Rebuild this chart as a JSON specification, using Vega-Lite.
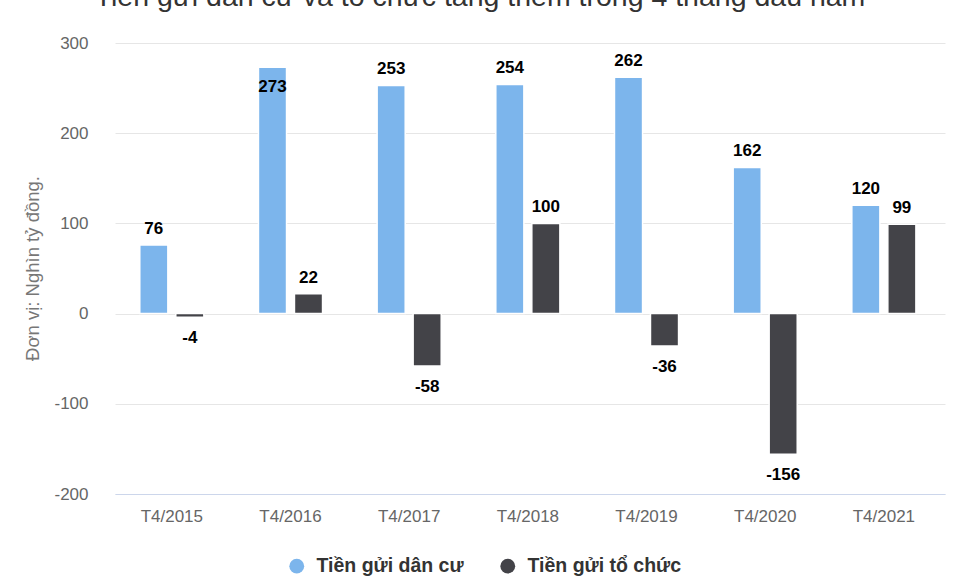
{
  "$schema": "https://vega.github.io/schema/vega-lite/v6.json",
  "width": 830,
  "height": 451,
  "autosize": {"type": "none"},
  "padding": {"left": 115, "top": 43, "right": 15, "bottom": 82},
  "background": "white",
  "title": {
    "text": "Tiền gửi dân cư và tổ chức tăng thêm trong 4 tháng đầu năm",
    "font": "Liberation Sans",
    "fontSize": 28.5,
    "fontWeight": "normal",
    "color": "#333333",
    "anchor": "middle",
    "frame": "group",
    "baseline": "alphabetic",
    "offset": 0,
    "dx": -50
  },
  "config": {
    "font": "Liberation Sans",
    "view": {"stroke": null},
    "locale": {"number": {"decimal": ".", "thousands": ",", "grouping": [3], "currency": ["", ""], "minus": "-"}}
  },
  "data": {
    "values": [
      {"period": "T4/2015", "series": "Tiền gửi dân cư", "value": 76},
      {"period": "T4/2015", "series": "Tiền gửi tổ chức", "value": -4},
      {"period": "T4/2016", "series": "Tiền gửi dân cư", "value": 273},
      {"period": "T4/2016", "series": "Tiền gửi tổ chức", "value": 22},
      {"period": "T4/2017", "series": "Tiền gửi dân cư", "value": 253},
      {"period": "T4/2017", "series": "Tiền gửi tổ chức", "value": -58},
      {"period": "T4/2018", "series": "Tiền gửi dân cư", "value": 254},
      {"period": "T4/2018", "series": "Tiền gửi tổ chức", "value": 100},
      {"period": "T4/2019", "series": "Tiền gửi dân cư", "value": 262},
      {"period": "T4/2019", "series": "Tiền gửi tổ chức", "value": -36},
      {"period": "T4/2020", "series": "Tiền gửi dân cư", "value": 162},
      {"period": "T4/2020", "series": "Tiền gửi tổ chức", "value": -156},
      {"period": "T4/2021", "series": "Tiền gửi dân cư", "value": 120},
      {"period": "T4/2021", "series": "Tiền gửi tổ chức", "value": 99}
    ]
  },
  "encoding": {
    "x": {
      "field": "period",
      "type": "nominal",
      "scale": {"paddingInner": 0.46, "paddingOuter": 0.227, "align": 0.46},
      "axis": {
        "title": null,
        "labelAngle": 0,
        "labelFontSize": 17,
        "labelColor": "#666666",
        "labelPadding": 14,
        "ticks": false,
        "domainColor": "#ccd6eb",
        "domainWidth": 1
      }
    },
    "xOffset": {
      "field": "series",
      "type": "nominal",
      "sort": ["Tiền gửi dân cư", "Tiền gửi tổ chức"],
      "scale": {"paddingInner": 0.22, "paddingOuter": 0}
    },
    "y": {
      "field": "value",
      "type": "quantitative",
      "scale": {"domain": [-200, 300], "nice": false},
      "axis": {
        "title": "Đơn vị: Nghìn tỷ đồng.",
        "titleFontSize": 18.5,
        "titleFontWeight": "normal",
        "titleColor": "#777777",
        "titleX": -83,
        "titleY": 225,
        "titleAngle": -90,
        "titleBaseline": "middle",
        "titleAlign": "center",
        "values": [-200, -100, 0, 100, 200, 300],
        "labelFontSize": 17,
        "labelColor": "#666666",
        "labelPadding": 27,
        "domain": false,
        "ticks": false,
        "gridColor": "#e6e6e6",
        "gridWidth": 1
      }
    }
  },
  "layer": [
    {
      "mark": {"type": "bar", "stroke": "white", "strokeWidth": 1.5},
      "encoding": {
        "color": {
          "field": "series",
          "type": "nominal",
          "scale": {
            "domain": ["Tiền gửi dân cư", "Tiền gửi tổ chức"],
            "range": ["#7cb5ec", "#434348"]
          },
          "legend": {
            "title": null,
            "orient": "none",
            "direction": "horizontal",
            "legendX": 172,
            "legendY": 513,
            "symbolType": "circle",
            "symbolSize": 220,
            "symbolStrokeWidth": 0,
            "labelFontSize": 19.5,
            "labelFontWeight": "bold",
            "labelColor": "#333333",
            "labelOffset": 10,
            "columnPadding": 34
          }
        }
      }
    },
    {
      "transform": [{"filter": "datum.value >= 0 && datum.value < 270"}],
      "mark": {"type": "text", "fontSize": 17, "fontWeight": "bold", "color": "#000000", "baseline": "alphabetic", "dy": -11},
      "encoding": {"text": {"field": "value", "type": "quantitative"}}
    },
    {
      "transform": [{"filter": "datum.value >= 270"}],
      "mark": {"type": "text", "fontSize": 17, "fontWeight": "bold", "color": "#000000", "baseline": "alphabetic", "dy": 25},
      "encoding": {"text": {"field": "value", "type": "quantitative"}}
    },
    {
      "transform": [{"filter": "datum.value < 0"}],
      "mark": {"type": "text", "fontSize": 17, "fontWeight": "bold", "color": "#000000", "baseline": "alphabetic", "dy": 26},
      "encoding": {"text": {"field": "value", "type": "quantitative"}}
    }
  ]
}
